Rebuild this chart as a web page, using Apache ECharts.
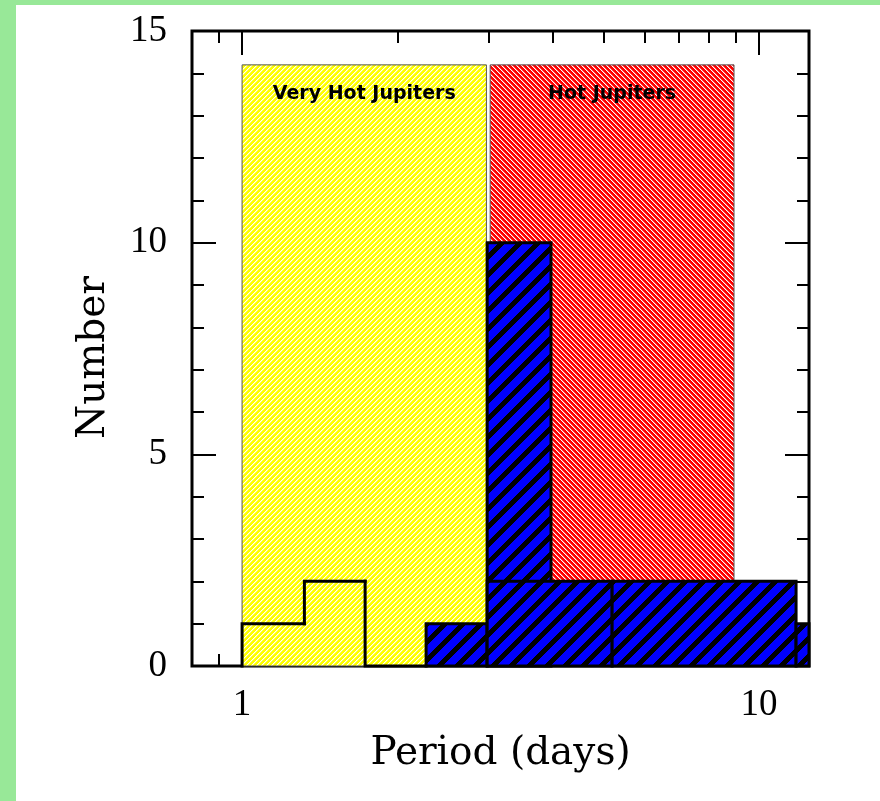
<!DOCTYPE html>
<html>
<head>
<meta charset="utf-8">
<script src="https://cdn.jsdelivr.net/npm/echarts@6/dist/echarts.min.js"></script>
<style>
  html, body { margin: 0; padding: 0; background: #98e898; }
  #chart { position: absolute; left: 16px; top: 5px; width: 864px; height: 796px; background: #ffffff; }
</style>
</head>
<body>
<div id="chart"></div>
<script>
// period axis (days, log) and count axis
const X_MIN = 0.8;
const X_MAX = 12.5;
const X_MAJOR = [1, 10];
const X_MINOR = [0.9, 2, 3, 4, 5, 6, 7, 8, 9];
const Y_MIN = 0;
const Y_MAX = 15;

// shaded period ranges
const REGION_NAMES = ["Very Hot Jupiters", "Hot Jupiters"];
const REGION_START = [1.0, 3.02];
const REGION_END = [2.97, 8.95];
const REGION_TOP = [14.2, 14.2];

// open (unfilled) histogram
const OPEN_EDGES = [1.0, 1.32, 1.73, 2.27];
const OPEN_COUNTS = [1, 2, 0];

// blue histogram, narrow bins
const FINE_EDGES = [2.27, 2.98, 3.96];
const FINE_COUNTS = [1, 10];

// blue histogram, wide bins (last one runs off the right edge)
const WIDE_EDGES = [2.98, 5.2, 11.8, 16];
const WIDE_COUNTS = [2, 2, 1];

const bins = (edges, counts) => counts.map((c, i) => [edges[i], edges[i + 1], c]);

// diagonal hatch tiles, "/" when dir > 0, "\" otherwise.
// soft = colour for the pixel next to each line (fakes antialiasing)
function hatch(size, bg, fg, dir, width, soft) {
  const cv = document.createElement("canvas");
  cv.width = size;
  cv.height = size;
  const ctx = cv.getContext("2d");
  ctx.fillStyle = bg;
  ctx.fillRect(0, 0, size, size);
  for (let y = 0; y < size; y++) {
    for (let x = 0; x < size; x++) {
      const k = dir > 0 ? (x + y) % size : ((x - y) % size + size) % size;
      if (k < width) {
        ctx.fillStyle = fg;
        ctx.fillRect(x, y, 1, 1);
      } else if (soft && k === width) {
        ctx.fillStyle = soft;
        ctx.fillRect(x, y, 1, 1);
      }
    }
  }
  return { image: cv, repeat: "repeat" };
}

const YELLOW = hatch(5, "#ffff00", "#ffffff", 1, 1, "#ffff70");
const RED = hatch(5, "#ff0000", "#ffffff", -1, 1, "#ff6060");
const BLUE = hatch(18, "#0000ff", "#000000", 1, 7);
const REGION_FILLS = [YELLOW, RED];

function clipToGrid(params, a, b) {
  const cs = params.coordSys;
  return echarts.graphic.clipRectByRect(
    { x: a[0], y: a[1], width: b[0] - a[0], height: b[1] - a[1] },
    { x: cs.x, y: cs.y, width: cs.width, height: cs.height }
  );
}

function renderRegion(params, api) {
  const i = params.dataIndex;
  const a = api.coord([api.value(0), api.value(2)]);
  const b = api.coord([api.value(1), 0]);
  const shape = clipToGrid(params, a, b);
  return {
    type: "group",
    children: [
      { type: "rect", shape, style: { fill: REGION_FILLS[i], stroke: "#555555", lineWidth: 1 } },
      {
        type: "text",
        style: {
          text: REGION_NAMES[i],
          x: (a[0] + b[0]) / 2,
          y: a[1] + 29,
          align: "center",
          verticalAlign: "middle",
          font: 'bold 19px "DejaVu Sans"',
          fill: "#000000",
        },
      },
    ],
  };
}

function renderOpen(params, api) {
  const i = params.dataIndex;
  const x0 = api.value(0), x1 = api.value(1), c = api.value(2);
  const prev = i > 0 ? OPEN_COUNTS[i - 1] : 0;
  const pts = [api.coord([x0, prev]), api.coord([x0, c]), api.coord([x1, c])];
  return {
    type: "polyline",
    shape: { points: pts },
    style: { fill: null, stroke: "#000000", lineWidth: 3, lineJoin: "miter", lineCap: "square" },
  };
}

function renderBlue(params, api) {
  const a = api.coord([api.value(0), api.value(2)]);
  const b = api.coord([api.value(1), 0]);
  const shape = clipToGrid(params, a, b);
  if (!shape) return;
  return {
    type: "rect",
    shape,
    style: { fill: BLUE, stroke: "#000000", lineWidth: 3 },
  };
}

const tickStyle = { color: "#000000", width: 2 };
const serifTicks = { color: "#000000", fontFamily: "Liberation Serif", fontSize: 37 };
const serifName = { color: "#000000", fontFamily: "DejaVu Serif", fontSize: 39 };

function periodAxis(position, values, length, labels) {
  return {
    type: "log",
    logBase: 10,
    min: X_MIN,
    max: X_MAX,
    position,
    axisLine: { show: false },
    splitLine: { show: false },
    axisTick: { show: true, inside: true, length, customValues: values, lineStyle: tickStyle },
    axisLabel: labels
      ? Object.assign({ customValues: values, margin: 21 }, serifTicks)
      : { show: false },
  };
}

function countAxis(position, labels) {
  return {
    type: "value",
    min: Y_MIN,
    max: Y_MAX,
    interval: 5,
    position,
    axisLine: { show: false },
    splitLine: { show: false },
    axisTick: { show: true, inside: true, length: 24, lineStyle: tickStyle },
    minorTick: { show: true, splitNumber: 5, length: 12, lineStyle: tickStyle },
    axisLabel: labels ? Object.assign({ margin: 25 }, serifTicks) : { show: false },
  };
}

const xMain = periodAxis("bottom", X_MAJOR, 24, true);
xMain.name = "Period (days)";
xMain.nameLocation = "middle";
xMain.nameGap = 68;
xMain.nameTextStyle = serifName;

const yMain = countAxis("left", true);
yMain.name = "Number";
yMain.nameLocation = "middle";
yMain.nameGap = 79;
yMain.nameTextStyle = Object.assign({ padding: [0, 18, 0, 0] }, serifName);

const chart = echarts.init(document.getElementById("chart"));
chart.setOption({
  animation: false,
  backgroundColor: "#ffffff",
  grid: {
    left: 176,
    top: 26,
    right: 71,
    bottom: 135,
    show: true,
    backgroundColor: "#ffffff",
    borderColor: "#000000",
    borderWidth: 3,
  },
  xAxis: [
    xMain,
    periodAxis("bottom", X_MINOR, 12, false),
    periodAxis("top", X_MAJOR, 24, false),
    periodAxis("top", X_MINOR, 12, false),
  ],
  yAxis: [yMain, countAxis("right", false)],
  series: [
    {
      type: "custom",
      name: "regions",
      renderItem: renderRegion,
      encode: { x: [0, 1], y: 2 },
      data: REGION_NAMES.map((n, i) => [REGION_START[i], REGION_END[i], REGION_TOP[i]]),
      z: 1,
    },
    {
      type: "custom",
      name: "open",
      renderItem: renderOpen,
      encode: { x: [0, 1], y: 2 },
      data: bins(OPEN_EDGES, OPEN_COUNTS),
      z: 2,
    },
    {
      type: "custom",
      name: "fine",
      renderItem: renderBlue,
      encode: { x: [0, 1], y: 2 },
      data: bins(FINE_EDGES, FINE_COUNTS),
      z: 3,
    },
    {
      type: "custom",
      name: "wide",
      renderItem: renderBlue,
      encode: { x: [0, 1], y: 2 },
      data: bins(WIDE_EDGES, WIDE_COUNTS),
      z: 4,
    },
  ],
});
</script>
</body>
</html>
